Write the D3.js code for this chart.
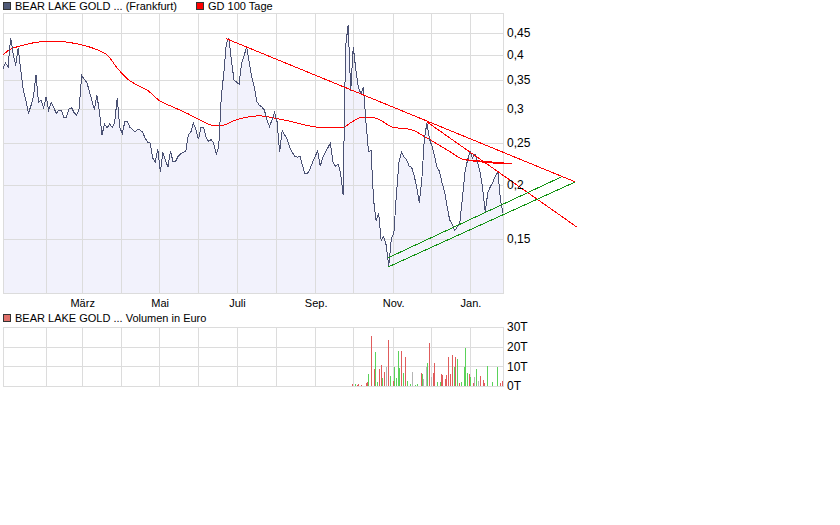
<!DOCTYPE html>
<html>
<head>
<meta charset="utf-8">
<script src="https://cdn.jsdelivr.net/npm/d3@7"></script>
<style>
body { margin: 0; background: #fff; }
text { font-family: "Liberation Sans", Arial, sans-serif; font-size: 11px; fill: #000; }
</style>
</head>
<body>
<svg id="chart" width="840" height="525"></svg>
<script>
// price series, one reading every 2 calendar days from priceStart
var priceStart = "2010-12-29";
var priceStepDays = 2;
var priceValues = [
  0.372,0.383,0.375,0.438,0.403,0.378,0.415,0.368,0.331,0.314,
  0.293,0.305,0.320,0.359,0.311,0.314,0.302,0.320,0.298,0.310,
  0.302,0.293,0.298,0.298,0.287,0.287,0.300,0.302,0.294,0.290,
  0.300,0.359,0.351,0.346,0.330,0.314,0.299,0.323,0.295,0.261,
  0.277,0.271,0.277,0.272,0.279,0.318,0.272,0.263,0.280,0.281,
  0.272,0.269,0.265,0.269,0.268,0.265,0.257,0.251,0.250,0.231,
  0.226,0.242,0.214,0.238,0.228,0.220,0.240,0.226,0.227,0.233,
  0.236,0.238,0.239,0.261,0.265,0.278,0.269,0.255,0.272,0.272,
  0.258,0.252,0.255,0.250,0.236,0.245,0.320,0.363,0.426,0.436,
  0.389,0.350,0.346,0.342,0.383,0.398,0.418,0.385,0.356,0.337,
  0.312,0.306,0.303,0.298,0.283,0.273,0.283,0.295,0.280,0.238,
  0.268,0.261,0.255,0.244,0.238,0.233,0.232,0.233,0.222,0.212,
  0.213,0.218,0.226,0.233,0.240,0.221,0.232,0.238,0.244,0.250,
  0.226,0.221,0.224,0.213,0.190,0.420,0.469,0.330,0.418,0.370,
  0.337,0.325,0.337,0.280,0.239,0.240,0.185,0.165,0.172,0.149,
  0.152,0.145,0.130,0.150,0.155,0.190,0.226,0.238,0.232,0.229,
  0.221,0.220,0.210,0.198,0.182,0.205,0.255,0.278,0.256,0.246,
  0.234,0.220,0.215,0.202,0.193,0.178,0.166,0.162,0.157,0.160,
  0.164,0.186,0.214,0.228,0.239,0.231,0.236,0.226,0.214,0.196,
  0.173,0.192,0.198,0.203,0.210,0.214,0.185,0.172
];

// GD 100 Tage
var maDates = ["2010-12-29","2011-01-03","2011-01-11","2011-01-21","2011-01-29","2011-02-14",
  "2011-02-22","2011-03-05","2011-03-15","2011-03-21","2011-03-29","2011-04-06","2011-04-14",
  "2011-04-22","2011-05-01","2011-05-12","2011-05-23","2011-06-02","2011-06-12","2011-06-20",
  "2011-06-28","2011-07-09","2011-07-19","2011-07-30","2011-08-14","2011-08-30","2011-09-10",
  "2011-09-22","2011-09-30","2011-10-08","2011-10-14","2011-10-22","2011-11-01","2011-11-15",
  "2011-11-28","2011-12-06","2011-12-16","2011-12-27","2012-01-05","2012-01-27"];
var maValues = [0.400,0.411,0.419,0.426,0.429,0.429,
  0.426,0.419,0.409,0.400,0.373,0.352,0.340,
  0.331,0.314,0.303,0.293,0.283,0.275,0.275,
  0.281,0.287,0.289,0.286,0.280,0.273,0.271,
  0.271,0.280,0.287,0.287,0.283,0.272,0.269,
  0.257,0.249,0.239,0.229,0.227,0.224];

// trend lines [date, price] -> [date, price]
var redLines = [
  [["2011-06-23", 0.436], ["2012-03-24", 0.2033]],
  [["2011-11-28", 0.280], ["2012-03-25", 0.160]],
  [["2011-12-27", 0.229], ["2012-02-03", 0.224]]
];
var greenLines = [
  [["2011-10-28", 0.129], ["2012-03-24", 0.2033]],
  [["2011-10-28", 0.1355], ["2012-03-13", 0.2088]]
];

// volume in Euro; dir: u = up, d = down, n = unchanged
var volDates = ["2011-09-30","2011-10-02","2011-10-04","2011-10-05","2011-10-07","2011-10-11",
  "2011-10-12","2011-10-13","2011-10-15","2011-10-17","2011-10-18","2011-10-20","2011-10-21",
  "2011-10-23","2011-10-24","2011-10-25","2011-10-27","2011-10-28","2011-10-30","2011-11-01",
  "2011-11-02","2011-11-04","2011-11-05","2011-11-06","2011-11-08","2011-11-09","2011-11-11",
  "2011-11-12","2011-11-15","2011-11-16","2011-11-19","2011-11-20","2011-11-23","2011-11-24",
  "2011-11-25","2011-11-27","2011-11-28","2011-11-30","2011-12-01","2011-12-03","2011-12-04",
  "2011-12-06","2011-12-08","2011-12-09","2011-12-10","2011-12-12","2011-12-13","2011-12-15",
  "2011-12-16","2011-12-18","2011-12-19","2011-12-20","2011-12-22","2011-12-23","2011-12-25",
  "2011-12-27","2011-12-28","2011-12-30","2011-12-31","2012-01-01","2012-01-03","2012-01-04",
  "2012-01-06","2012-01-07","2012-01-09","2012-01-11","2012-01-12","2012-01-14","2012-01-18",
  "2012-01-22","2012-01-25","2012-01-26"];
var volValues = [1000,1000,500,1000,500,1700,
  2200,6100,25200,8700,17500,2200,8700,
  10700,4300,7200,9900,23500,5100,2600,
  9900,4100,17900,9000,17900,6800,14800,
  2600,1000,7000,500,1000,6500,6100,
  3400,9900,11800,22100,4800,6600,11800,
  2000,2000,6100,5600,3600,5600,14500,
  6100,15800,9900,14800,13800,1700,2200,
  9900,19400,6800,6100,4400,1700,4400,
  8700,2600,5100,3100,1700,10200,2200,
  9900,1700,2600];
var volDir = ["d","u","d","d","d","d",
  "d","u","d","d","u","u","d",
  "d","u","d","n","d","u","d",
  "u","u","u","u","d","u","d",
  "u","u","n","u","u","d","u",
  "n","n","u","d","n","d","d",
  "u","u","d","d","d","d","d",
  "d","d","u","d","u","d","u",
  "u","u","u","d","u","d","n",
  "u","n","d","d","d","u","u",
  "u","d","d"];

var gridMonths = ["2011-02-01","2011-03-01","2011-04-01","2011-05-01","2011-06-01","2011-07-01",
  "2011-08-01","2011-09-01","2011-10-01","2011-11-01","2011-12-01","2012-01-01"];
var labelMonths = ["2011-03-01","2011-05-01","2011-07-01","2011-09-01","2011-11-01","2012-01-01"];
var labelTexts = ["März","Mai","Juli","Sep.","Nov.","Jan."];
var priceTicks = [0.15, 0.2, 0.25, 0.3, 0.35, 0.4, 0.45];
var volTicks = [0, 10000, 20000, 30000];

var parse = d3.timeParse("%Y-%m-%d");
var svg = d3.select("#chart");

var left = 3, right = 503;
var pTop = 13, pBottom = 293;
var vTop = 327, vBottom = 386;

var x = d3.scaleTime()
    .domain([parse("2010-12-29"), parse("2012-01-27")])
    .range([left, right]);
var y = d3.scaleLog()
    .domain([0.1125, 0.5])
    .range([pBottom, pTop]);
var yv = d3.scaleLinear()
    .domain([0, 30000])
    .range([vBottom, vTop]);

var price = priceValues.map(function(v, i) {
  return {date: d3.timeDay.offset(parse(priceStart), i * priceStepDays), value: v};
});
var ma = maDates.map(function(d, i) { return {date: parse(d), value: maValues[i]}; });

var fmt = function(v) { return d3.format("")(+v.toFixed(2)).replace(".", ","); };

// ---- price panel ----
var area = d3.area()
    .x(function(d) { return x(d.date); })
    .y0(pBottom)
    .y1(function(d) { return y(d.value); });
svg.append("path").datum(price)
    .attr("d", area)
    .attr("fill", "#f2f2fc");

var grid = svg.append("g").attr("shape-rendering", "crispEdges")
    .attr("stroke", "#dcdcdc").attr("stroke-width", 1);
gridMonths.forEach(function(m) {
  var gx = Math.round(x(parse(m))) + 0.5;
  grid.append("line").attr("x1", gx).attr("x2", gx).attr("y1", pTop).attr("y2", pBottom);
  grid.append("line").attr("x1", gx).attr("x2", gx).attr("y1", vTop).attr("y2", vBottom);
});
priceTicks.forEach(function(t) {
  var gy = Math.round(y(t)) + 0.5;
  grid.append("line").attr("x1", left).attr("x2", right).attr("y1", gy).attr("y2", gy);
});
volTicks.forEach(function(t) {
  var gy = Math.round(yv(t)) + 0.5;
  grid.append("line").attr("x1", left).attr("x2", right).attr("y1", gy).attr("y2", gy);
});
grid.append("rect").attr("x", left + 0.5).attr("y", pTop + 0.5)
    .attr("width", right - left).attr("height", pBottom - pTop).attr("fill", "none");
grid.append("rect").attr("x", left + 0.5).attr("y", vTop + 0.5)
    .attr("width", right - left).attr("height", vBottom - vTop).attr("fill", "none");

var line = d3.line()
    .x(function(d) { return x(d.date); })
    .y(function(d) { return y(d.value); });

// the original is drawn without anti-aliasing
var lines = svg.append("g").attr("shape-rendering", "crispEdges");

lines.append("path").datum(ma)
    .attr("d", line.curve(d3.curveMonotoneX))
    .attr("fill", "none").attr("stroke", "#ff0000").attr("stroke-width", 1);

lines.append("path").datum(price)
    .attr("d", line.curve(d3.curveLinear))
    .attr("fill", "none").attr("stroke", "#4b5274").attr("stroke-width", 1);

function drawTrend(list, color) {
  list.forEach(function(l) {
    lines.append("line")
      .attr("x1", x(parse(l[0][0]))).attr("y1", y(l[0][1]))
      .attr("x2", x(parse(l[1][0]))).attr("y2", y(l[1][1]))
      .attr("stroke", color).attr("stroke-width", 1);
  });
}
drawTrend(redLines, "#ff0000");
drawTrend(greenLines, "#139313");

// y labels
svg.append("g").selectAll("text").data(priceTicks).enter().append("text")
    .attr("x", 507).attr("y", function(d) { return y(d); })
    .attr("dy", "0.35em")
    .style("font-size", "12px")
    .text(fmt);

// month labels
svg.append("g").selectAll("text").data(labelMonths).enter().append("text")
    .attr("x", function(d) { return x(parse(d)) + 1; })
    .attr("y", 307)
    .attr("text-anchor", "middle")
    .text(function(d, i) { return labelTexts[i]; });

// ---- volume panel ----
var dirColor = {u: "#5ad25a", d: "#e05c5c", n: "#b4b4b4"};
svg.append("g").attr("shape-rendering", "crispEdges")
  .selectAll("rect").data(volDates).enter().append("rect")
    .attr("x", function(d) { return Math.round(x(parse(d))); })
    .attr("width", 1)
    .attr("y", function(d, i) { return yv(volValues[i]); })
    .attr("height", function(d, i) { return vBottom - yv(volValues[i]); })
    .attr("fill", function(d, i) { return dirColor[volDir[i]]; });

svg.append("g").selectAll("text").data(volTicks).enter().append("text")
    .attr("x", 507).attr("y", function(d) { return yv(d); })
    .attr("dy", "0.35em")
    .style("font-size", "12px")
    .text(function(d) { return (d / 1000) + "T"; });

// ---- legends ----
function legend(lx, ly, color, label) {
  svg.append("rect").attr("x", lx + 0.5).attr("y", ly + 0.5).attr("width", 7).attr("height", 7)
     .attr("fill", color).attr("stroke", "#333").attr("shape-rendering", "crispEdges");
  svg.append("text").attr("x", lx + 12).attr("y", ly + 8).text(label);
}
legend(3, 2, "#505a78", "BEAR LAKE GOLD ... (Frankfurt)");
legend(196, 2, "#ff0000", "GD 100 Tage");
legend(3, 314, "#e0706a", "BEAR LAKE GOLD ... Volumen in Euro");
</script>
</body>
</html>
